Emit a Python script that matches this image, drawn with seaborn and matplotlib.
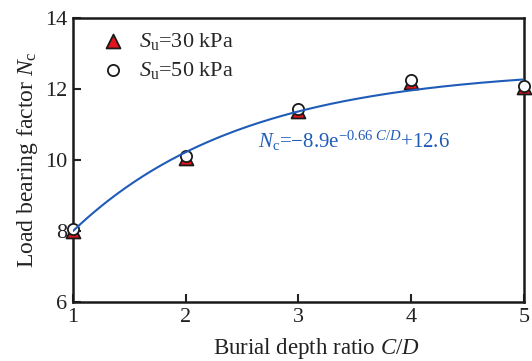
import numpy as np
import pandas as pd
import seaborn as sns
import matplotlib.pyplot as plt

# data
cd_ratio = [1, 2, 3, 4, 5]
nc_30kpa = [8.00, 10.07, 11.37, 12.20, 12.05]
nc_50kpa = [8.05, 10.12, 11.44, 12.25, 12.08]

# fitted curve parameters, as printed on the chart
fit_a, fit_b, fit_c = -8.9, -0.66, 12.6

sns.set_style('ticks')
plt.rcParams['font.family'] = ['Liberation Serif', 'DejaVu Serif']
plt.rcParams['mathtext.fontset'] = 'custom'
plt.rcParams['mathtext.rm'] = 'Liberation Serif'
plt.rcParams['mathtext.it'] = 'Liberation Serif:italic'
plt.rcParams['mathtext.default'] = 'regular'

df30 = pd.DataFrame({'cd': cd_ratio, 'nc': nc_30kpa})
df50 = pd.DataFrame({'cd': cd_ratio, 'nc': nc_50kpa})
xs = np.linspace(1, 5, 200)
fit_df = pd.DataFrame({'cd': xs, 'nc': fit_a * np.exp(fit_b * xs) + fit_c})

fig = plt.figure(figsize=(5.32, 3.61), dpi=100)
ax = fig.add_axes([0.137, 0.163, 0.848, 0.787])

sns.scatterplot(data=df30, x='cd', y='nc', ax=ax, marker='^', s=100,
                color='#e3141b', edgecolor='#1a1a1a', linewidth=1.3,
                label=r'$\mathit{S}_{\rm u}$=30 kPa', zorder=3, clip_on=False)
sns.scatterplot(data=df50, x='cd', y='nc', ax=ax, marker='o', s=65,
                color='white', edgecolor='#1a1a1a', linewidth=1.3,
                label=r'$\mathit{S}_{\rm u}$=50 kPa', zorder=4, clip_on=False)
sns.lineplot(data=fit_df, x='cd', y='nc', ax=ax, color='#1f5cb8',
             linewidth=1.5, zorder=5, legend=False)

ax.text(3.49, 10.54, r'$\mathit{N}_{\rm c}$=−8.9e$^{−0.66\ \mathit{C/D}}$+12.6',
        color='#1f5cb8', fontsize=15, ha='center', va='center')

ax.set_xlim(1, 5)
ax.set_ylim(6, 14)
ax.set_xticks([1, 2, 3, 4, 5])
ax.set_yticks([6, 8, 10, 12, 14])
ax.tick_params(direction='in', length=6, width=1.5, labelsize=16,
               colors='#222222', pad=4)
for sp in ax.spines.values():
    sp.set_linewidth(1.8)
    sp.set_color('#1a1a1a')

ax.set_xlabel(r'Burial depth ratio $\mathit{C/D}$', fontsize=16.5,
              color='#222222')
ax.xaxis.set_label_coords(0.54, -0.12)
ax.set_ylabel(r'Load bearing factor $\mathit{N}_{\rm c}$', fontsize=17,
              color='#222222', labelpad=4)

ax.legend(loc='upper left', frameon=False, fontsize=16, handletextpad=0.15,
          borderaxespad=0.0, labelspacing=0.35, bbox_to_anchor=(0.02, 0.985))

plt.savefig('out.png', dpi=100)
